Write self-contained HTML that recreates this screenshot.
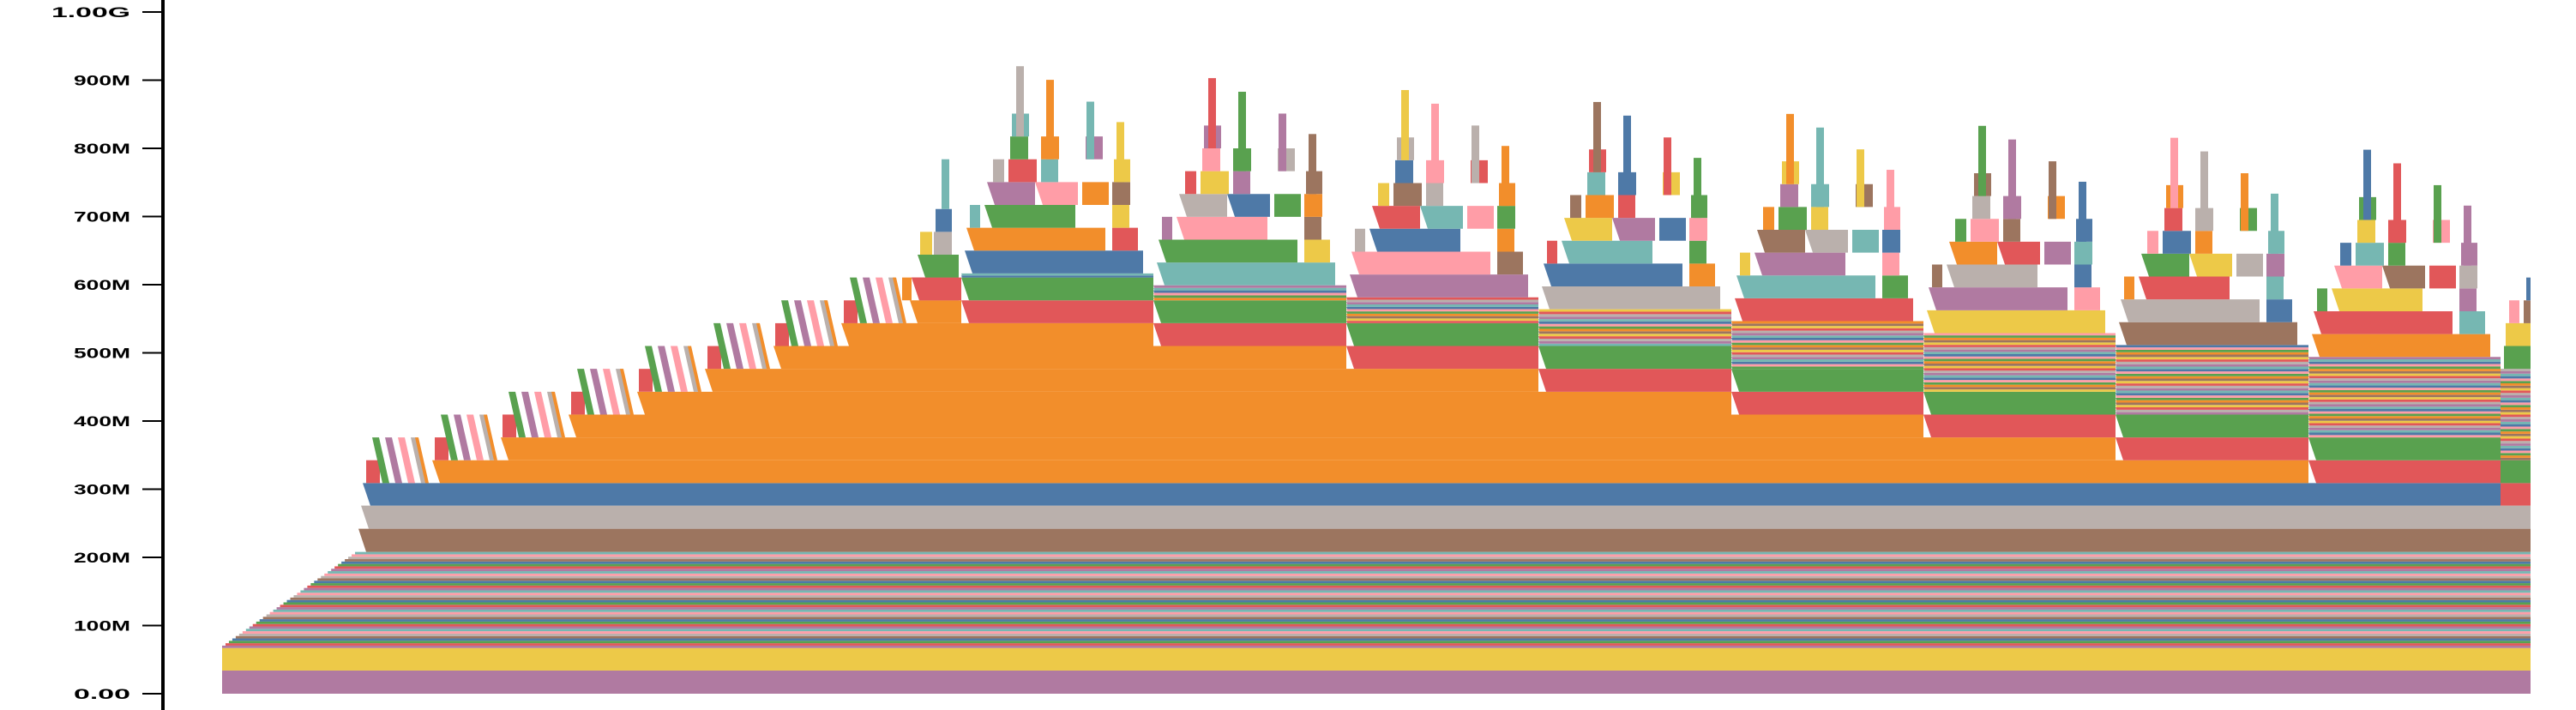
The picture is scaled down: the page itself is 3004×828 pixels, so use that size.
<!DOCTYPE html>
<html><head><meta charset="utf-8"><style>
html,body{margin:0;padding:0;background:#fff;}
svg{display:block;}
</style></head><body>
<svg id="chart" width="3004" height="828" viewBox="0 0 3004 828" xmlns="http://www.w3.org/2000/svg">
<defs><clipPath id="plotclip"><rect x="190" y="0" width="2761" height="828"/></clipPath></defs>
<g id="plot" clip-path="url(#plotclip)"></g>
<g id="axis"></g>
</svg>
<script>
// ---- data ----
const tickValues = [0,100,200,300,400,500,600,700,800,900,1000];
const tickLabels = ["0.00","100M","200M","300M","400M","500M","600M","700M","800M","900M","1.00G"];
const baseLayers = [0,34,67];
const stripeRange = [67,208];
const stripeRampEnd = 159;
const lowerBands = [208,242,276];
const lowerStart = [159,162,164];
const levelBase = 309, levelStep = 33.5;
const orangeStart = [245,325,404,484,563,643,722,802];
const cycleStart = [862,1086,1311,1535,1760,1984,2208,2433,2657];
const stripeThick = [6,22,38,54,70,86,102,118,134];
const timeEnd = 2692;
const pyrX0 = [4,6,176,10,27,176,30,86,141,176,37,55,93,178,57,93,145,59];
const pyrX1 = [212,168,206,22,133,196,86,136,172,197,50,88,113,197,78,114,165,79];
const pyrLvl = [0,1,1,2,2,2,3,3,3,3,4,4,4,4,5,5,5,6];
const pyrCol = [0,1,2,3,4,5,6,7,1,8,9,2,3,5,4,1,6,3];
const spikeX = [64,99,146,181];
const spikeBase = [7,6,6,5];
const spikeTop = [304,284,252,222];
const preX0 = [793,804,811,814,830,832];
const preX1 = [804,859,859,828,851,851];
const preLvl = [8,8,9,10,10,11];
const preColor = [1,2,4,5,9,0];
const preSpike = [839,848,784];

// ---- scales ----
const X0 = 259, XR = 2951;
const xs = t => X0 + t*(XR-X0)/timeEnd;
const ys = m => 809 - m*0.795;
const L = k => levelBase + levelStep*k;
const pal = ["#4e79a7","#f28e2b","#e15759","#76b7b2","#59a14f","#edc948","#b07aa1","#ff9da7","#9c755f","#bab0ac"];
const NS = "http://www.w3.org/2000/svg";
const plot = document.getElementById('plot');
const axis = document.getElementById('axis');

function band(t0,t1,lo,hi,color,name){
  if(t1<=t0) return;
  const a=xs(t0), b=xs(t1);
  const sl = (b-a)>40 ? Math.min(9,(hi-lo)*0.27) : 0;
  const p = document.createElementNS(NS,'polygon');
  p.setAttribute('points',`${a},${ys(hi)} ${b},${ys(hi)} ${b},${ys(lo)} ${Math.min(a+sl,b)},${ys(lo)}`);
  p.setAttribute('fill',color);
  
  
  plot.appendChild(p);
}
function rect(t0,t1,lo,hi,color,name){
  if(t1<=t0) return;
  const r = document.createElementNS(NS,'rect');
  r.setAttribute('x',xs(t0)); r.setAttribute('width',xs(t1)-xs(t0));
  r.setAttribute('y',ys(hi)); r.setAttribute('height',ys(lo)-ys(hi));
  r.setAttribute('fill',color);
  
  
  plot.appendChild(r);
}
function para(t,lo,hi,w,sl,color,name){
  const p = document.createElementNS(NS,'polygon');
  const a=xs(t);
  p.setAttribute('points',`${a},${ys(hi)} ${a+w},${ys(hi)} ${a+w+sl},${ys(lo)} ${a+sl},${ys(lo)}`);
  p.setAttribute('fill',color);
  
  
  plot.appendChild(p);
}

rect(0,timeEnd,baseLayers[0],baseLayers[1],pal[6],'layer-base-purple');
rect(0,timeEnd,baseLayers[1],baseLayers[2],pal[5],'layer-base-yellow');
const nStripes = 40;
for(let i=0;i<nStripes;i++){
  const lo = stripeRange[0] + (stripeRange[1]-stripeRange[0])*i/nStripes;
  const hi = stripeRange[0] + (stripeRange[1]-stripeRange[0])*(i+1)/nStripes;
  rect(stripeRampEnd*i/nStripes, timeEnd, lo, hi, pal[[6,2,4,0,8,9,7,3][i%8]], 'stripe-layer');
}
band(lowerStart[0],timeEnd,lowerBands[0],lowerBands[1],pal[8],'layer-brown');
band(lowerStart[1],timeEnd,lowerBands[1],lowerBands[2],pal[9],'layer-gray');
const S = j => (j>=0 && j<cycleStart.length) ? cycleStart[j] : (j<0 ? orangeStart[7] : timeEnd);
for(let k=-1;k<=8;k++){
  const lo=L(k), hi=L(k+1);
  let st;
  if(k===-1) st=lowerStart[2];
  else if(k<=7) st=orangeStart[k];
  const oEnd = (7-k)>=0 ? S(7-k) : null;
  if(k===-1) band(st,oEnd,lowerBands[2],hi,pal[0],'layer-blue');
  else if(k<=7) band(st,oEnd,lo,hi,pal[1],'layer-orange-'+k);
  const rStart = k===8 ? preX0[1] : oEnd;
  band(rStart, S(8-k), k===-1?lowerBands[2]:lo, hi, pal[2], 'layer-red-'+k);
  if(9-k<=cycleStart.length) band(S(8-k), Math.min(S(9-k),timeEnd), k===-1?lowerBands[2]:lo, hi, pal[4], 'layer-green-'+k);
}
const nColors=[4,6,7,9];
for(let k=0;k<orangeStart.length;k++){
  const s=orangeStart[k];
  rect(s-77,s-61,L(k),L(k+1),pal[2],'sawtooth-red');
  for(let i=0;i<4;i++) para(s-70+15*i,L(k),L(k+2),8,12,pal[nColors[i]],'sawtooth-wedge');
  para(s-20,L(k),L(k+2),4,12,pal[1],'sawtooth-wedge');
}
for(let i=0;i<preX0.length;i++) band(preX0[i],preX1[i],L(preLvl[i]),L(preLvl[i]+1),pal[preColor[i]],'pre-peak-block');
rect(preSpike[0],preSpike[1],L(12),preSpike[2],pal[3],'pre-peak-spike');
for(let j=0;j<cycleStart.length;j++){
  const s=cycleStart[j], e=Math.min(S(j+1),timeEnd);
  const g=L(9-j), T=stripeThick[j];
  const n=Math.round(T/3.5);
  for(let i=0;i<n;i++) band(s,e,g+T*i/n,g+T*(i+1)/n,pal[(i*3+j)%10],'cycle-stripe');
  const base=g+T;
  for(let b=0;b<pyrX0.length;b++){
    band(s+pyrX0[b],Math.min(s+pyrX1[b],e),base+levelStep*pyrLvl[b],base+levelStep*(pyrLvl[b]+1),pal[(pyrCol[b]+j*3)%10],'peak-block');
  }
  for(let q=0;q<spikeX.length;q++){
    rect(s+spikeX[q],s+spikeX[q]+9,base+levelStep*spikeBase[q]-levelStep,base+spikeTop[q],pal[(q*2+j*3+9)%10],'peak-spike');
  }
}
const al=document.createElementNS(NS,'line');
al.setAttribute('x1',190);al.setAttribute('x2',190);al.setAttribute('y1',0);al.setAttribute('y2',828);
al.setAttribute('stroke','#000');al.setAttribute('stroke-width',4);


axis.appendChild(al);
for(let i=0;i<tickValues.length;i++){
  const y=ys(tickValues[i]);
  const tk=document.createElementNS(NS,'line');
  tk.setAttribute('x1',166);tk.setAttribute('x2',190);tk.setAttribute('y1',y);tk.setAttribute('y2',y);
  tk.setAttribute('stroke','#000');tk.setAttribute('stroke-width',2);
  
  
  axis.appendChild(tk);
  const tx=document.createElementNS(NS,'text');
  tx.setAttribute('x',152);tx.setAttribute('y',y+6);
  tx.setAttribute('text-anchor','end');
  tx.setAttribute('font-family','Liberation Sans, sans-serif');
  tx.setAttribute('font-size','17');tx.setAttribute('font-weight','bold');
  const len = tickLabels[i].length===5 ? (tickLabels[i]==="1.00G"?92:86) : 66;
  tx.setAttribute('textLength',len);tx.setAttribute('lengthAdjust','spacingAndGlyphs');
  tx.textContent=tickLabels[i];
  
  
  axis.appendChild(tx);
}
</script>
</body></html>
